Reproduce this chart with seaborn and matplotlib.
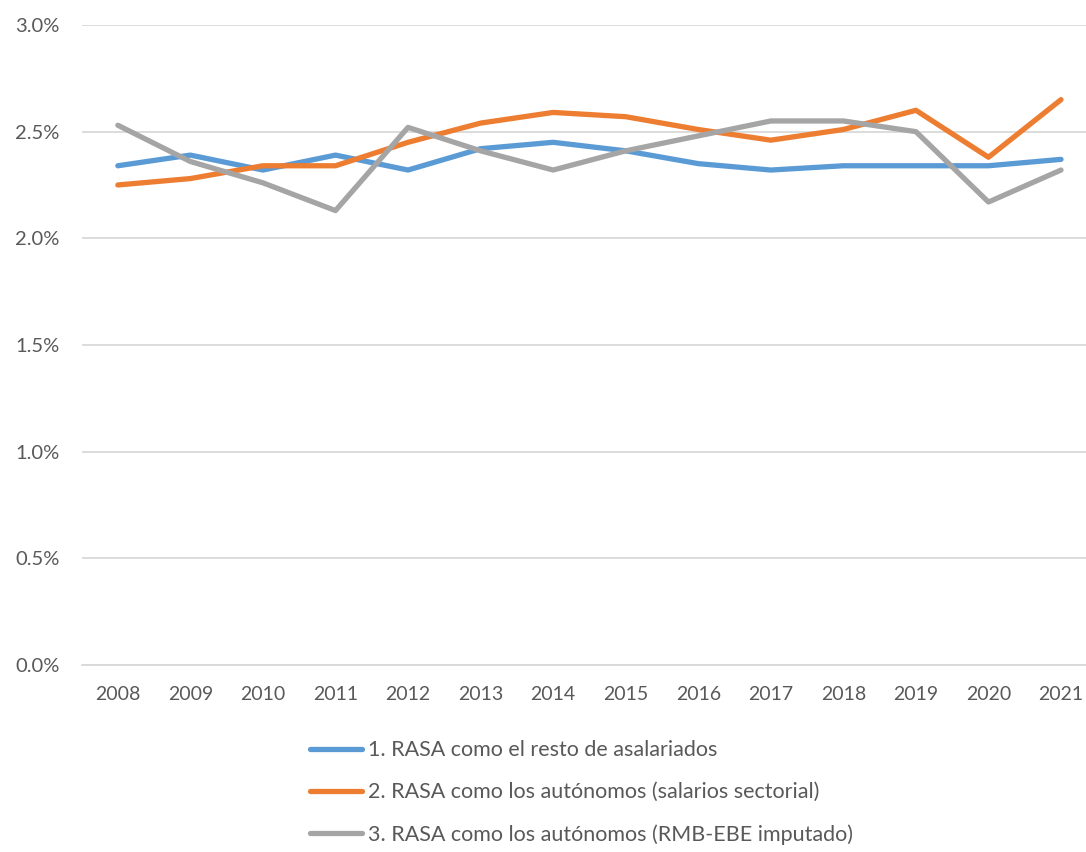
import pandas as pd
import seaborn as sns
import matplotlib.pyplot as plt
from matplotlib.ticker import FuncFormatter

# Values (percent)
years = [2008, 2009, 2010, 2011, 2012, 2013, 2014,
         2015, 2016, 2017, 2018, 2019, 2020, 2021]
rasa_asalariados = [2.34, 2.39, 2.32, 2.39, 2.32, 2.42, 2.45,
                    2.41, 2.35, 2.32, 2.34, 2.34, 2.34, 2.37]
rasa_salarios = [2.25, 2.28, 2.34, 2.34, 2.45, 2.54, 2.59,
                 2.57, 2.51, 2.46, 2.51, 2.60, 2.38, 2.65]
rasa_rmb_ebe = [2.53, 2.36, 2.26, 2.13, 2.52, 2.41, 2.32,
                2.41, 2.48, 2.55, 2.55, 2.50, 2.17, 2.32]
series_names = ['1. RASA como el resto de asalariados',
                '2. RASA como los autónomos (salarios sectorial)',
                '3. RASA como los autónomos (RMB-EBE imputado)']
colors = ['#5B9BD5', '#ED7D31', '#A5A5A5']

# Long-form table for seaborn
df = pd.concat([
    pd.DataFrame({'year': years, 'value': vals, 'serie': name})
    for name, vals in zip(series_names, [rasa_asalariados, rasa_salarios, rasa_rmb_ebe])
])

sns.set_style('white')
plt.rcParams['font.family'] = ['Lato', 'DejaVu Sans']
text_color = '#595959'

fig = plt.figure(figsize=(10.86, 8.52), dpi=100)
ax = fig.add_axes([0.0751, 0.2195, 0.9353, 0.7512])

sns.lineplot(data=df, x='year', y='value', hue='serie', palette=colors,
             linewidth=3.8, ax=ax, solid_capstyle='round')

# Axes styling
ax.set_xlim(2007.5, 2021.5)
ax.set_ylim(0, 3.0)
ax.set_yticks([0, 0.5, 1.0, 1.5, 2.0, 2.5, 3.0])
ax.set_xticks(years)
ax.yaxis.set_major_formatter(FuncFormatter(lambda v, _: f'{v:.1f}%'))
ax.grid(axis='y', color='#D9D9D9', linewidth=1.3)
ax.set_axisbelow(True)
for side in ['left', 'right', 'top']:
    ax.spines[side].set_visible(False)
ax.spines['bottom'].set_color('#D9D9D9')
ax.spines['bottom'].set_linewidth(1.3)
ax.tick_params(axis='y', length=0, pad=16, labelsize=14.5, labelcolor=text_color)
ax.tick_params(axis='x', length=0, pad=15, labelsize=14, labelcolor=text_color)
ax.set_xlabel('')
ax.set_ylabel('')

# Legend below the chart
handles, labels = ax.get_legend_handles_labels()
ax.get_legend().remove()
fig.legend(handles, labels, loc='upper left', bbox_to_anchor=(0.2855, 0.131),
           frameon=False, ncol=1, fontsize=15.5, labelcolor=text_color,
           handlelength=2.42, handletextpad=0.28, labelspacing=1.02,
           borderpad=0, borderaxespad=0)

fig.savefig('out.png', dpi=100)
